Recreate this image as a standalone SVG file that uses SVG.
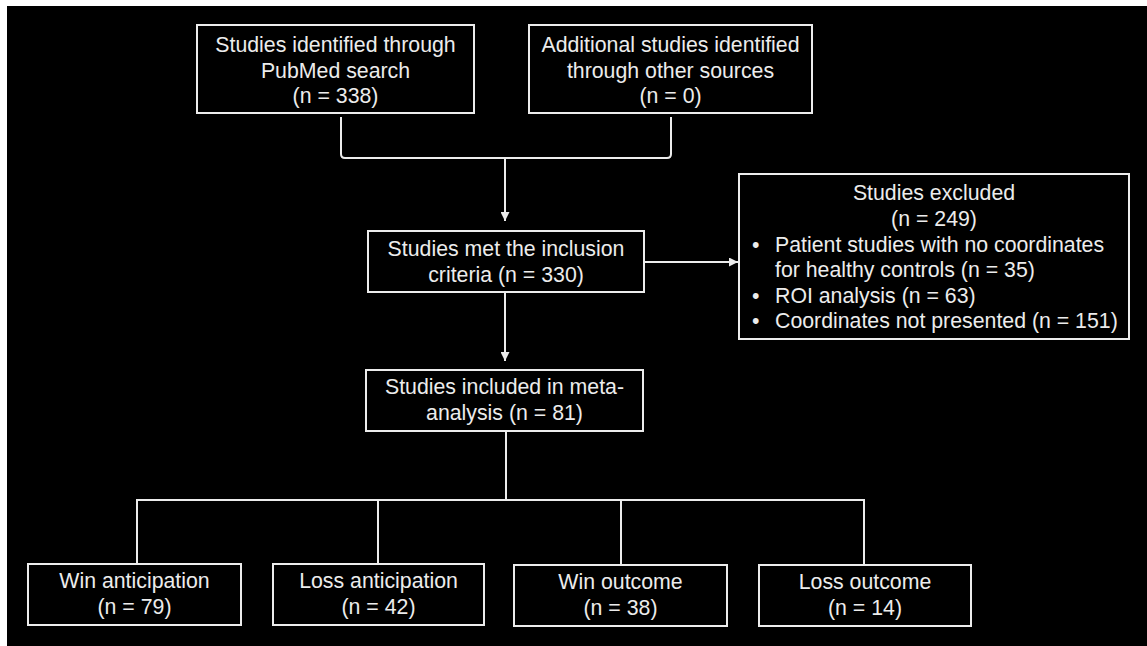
<svg xmlns="http://www.w3.org/2000/svg" width="1147" height="646" viewBox="0 0 1147 646">
<defs>
<style>
.box{fill:#000;stroke:#ececec;stroke-width:2}
.ln{fill:none;stroke:#ececec;stroke-width:2}
text{font-family:"Liberation Sans",Arial,sans-serif;font-size:21.3px;fill:#ececec}
.c{text-anchor:middle}
</style>
<marker id="ah" viewBox="0 0 10 10" refX="10" refY="5" markerWidth="9" markerHeight="9" markerUnits="userSpaceOnUse" orient="auto">
<path d="M0,0 L10,5 L0,10 z" fill="#ececec"/>
</marker>
</defs>
<rect x="0" y="0" width="1147" height="646" fill="#fff"/>
<rect x="7" y="6" width="1140" height="640" fill="#000"/>

<g id="connectors">
<path class="ln" d="M341,117 V154 Q341,158 345,158 H667 Q671,158 671,154 V117"/>
<path class="ln" d="M505,158 V221" marker-end="url(#ah)"/>
<path class="ln" d="M644,262 H738" marker-end="url(#ah)"/>
<path class="ln" d="M505,292 V361" marker-end="url(#ah)"/>
<path class="ln" d="M506,431 V500"/>
<path class="ln" d="M137,564 V500 H864 V564"/>
<path class="ln" d="M378,500 V564"/>
<path class="ln" d="M621,500 V564"/>
</g>

<g id="pubmed">
<rect class="box" x="197" y="25" width="277" height="88"/>
<text class="c" x="335.5" y="52">Studies identified through</text>
<text class="c" x="335.5" y="77.5">PubMed search</text>
<text class="c" x="335.5" y="103">(n = 338)</text>
</g>

<g id="additional">
<rect class="box" x="529" y="25" width="283" height="88"/>
<text class="c" x="670.5" y="52">Additional studies identified</text>
<text class="c" x="670.5" y="77.5">through other sources</text>
<text class="c" x="670.5" y="103">(n = 0)</text>
</g>

<g id="met">
<rect class="box" x="368" y="231" width="276" height="61"/>
<text class="c" x="506" y="256">Studies met the inclusion</text>
<text class="c" x="506" y="282">criteria (n = 330)</text>
</g>

<g id="excluded">
<rect class="box" x="739" y="174" width="390" height="165"/>
<text class="c" x="934" y="200">Studies excluded</text>
<text class="c" x="934" y="226">(n = 249)</text>
<text x="752" y="252">•</text>
<text x="775" y="252">Patient studies with no coordinates</text>
<text x="775" y="277">for healthy controls (n = 35)</text>
<text x="752" y="303">•</text>
<text x="775" y="303">ROI analysis (n = 63)</text>
<text x="752" y="328">•</text>
<text x="775" y="328">Coordinates not presented (n = 151)</text>
</g>

<g id="included">
<rect class="box" x="366" y="370" width="277" height="61"/>
<text class="c" x="504.5" y="394">Studies included in meta-</text>
<text class="c" x="504.5" y="420">analysis (n = 81)</text>
</g>

<g id="win-anticipation">
<rect class="box" x="28" y="564" width="213" height="61"/>
<text class="c" x="134.5" y="588">Win anticipation</text>
<text class="c" x="134.5" y="614">(n = 79)</text>
</g>

<g id="loss-anticipation">
<rect class="box" x="273" y="564" width="211" height="61"/>
<text class="c" x="378.5" y="588">Loss anticipation</text>
<text class="c" x="378.5" y="614">(n = 42)</text>
</g>

<g id="win-outcome">
<rect class="box" x="514" y="565" width="213" height="61"/>
<text class="c" x="620.5" y="589">Win outcome</text>
<text class="c" x="620.5" y="615">(n = 38)</text>
</g>

<g id="loss-outcome">
<rect class="box" x="759" y="565" width="212" height="61"/>
<text class="c" x="865" y="589">Loss outcome</text>
<text class="c" x="865" y="615">(n = 14)</text>
</g>
</svg>
